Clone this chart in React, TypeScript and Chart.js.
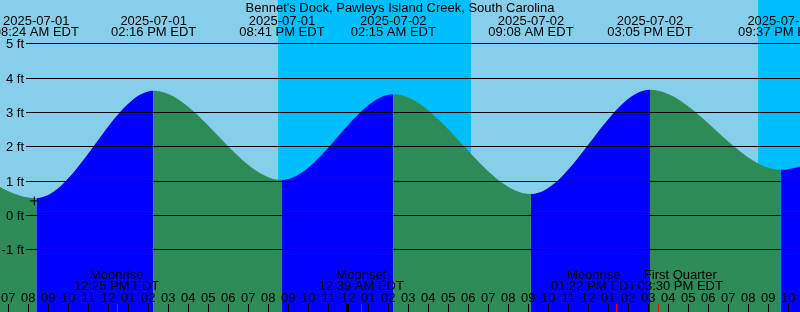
import React, { useEffect, useRef } from "react";
import { Chart, registerables } from "chart.js";

Chart.register(...registerables);

// ---- data (times are hours since 2025-07-01 00:00 EDT, levels in ft) ----
const TITLE = "Bennet's Dock, Pawleys Island Creek, South Carolina";

const tideTimes = [1.7, 8.4, 14.267, 20.683, 26.25, 33.133, 39.083, 45.617, 52.0];
const tideLevels = [3.05, 0.5, 3.63, 1.03, 3.53, 0.62, 3.66, 1.33, 3.5];

const eventTimes = [8.4, 14.267, 20.683, 26.25, 33.133, 39.083, 45.617];
const eventDates = ["2025-07-01", "2025-07-01", "2025-07-01", "2025-07-02", "2025-07-02", "2025-07-02", "2025-07-02"];
const eventClock = ["08:24 AM EDT", "02:16 PM EDT", "08:41 PM EDT", "02:15 AM EDT", "09:08 AM EDT", "03:05 PM EDT", "09:37 PM EDT"];

const moonTimes = [12.417, 24.65, 37.367, 39.5];
const moonNames = ["Moonrise", "Moonset", "Moonrise", "First Quarter"];
const moonClock = ["12:25 PM EDT", "12:39 AM EDT", "01:22 PM EDT", "03:30 PM EDT"];

const nightStarts = [20.485, 44.47];
const nightEnds = [30.135, 54.0];

const yTickValues = [5, 4, 3, 2, 1, 0, -1];
const yTickLabels = ["5 ft", "4 ft", "3 ft", "2 ft", "1 ft", "0 ft", "-1 ft"];

const hourValues = [
  7, 8, 9, 10, 11, 12, 13, 14, 15, 16, 17, 18, 19, 20, 21, 22, 23, 24, 25, 26,
  27, 28, 29, 30, 31, 32, 33, 34, 35, 36, 37, 38, 39, 40, 41, 42, 43, 44, 45, 46,
];
const hourLabels = [
  "07", "08", "09", "10", "11", "12", "01", "02", "03", "04", "05", "06", "07", "08", "09", "10", "11", "12", "01", "02",
  "03", "04", "05", "06", "07", "08", "09", "10", "11", "12", "01", "02", "03", "04", "05", "06", "07", "08", "09", "10",
];
const midnightHours = [24];

const markerTimes = [8.3];
const markerLevels = [0.42];

const X_MIN = 6.585;
const X_MAX = 46.585;
const Y_MIN = -2.82;
const Y_MAX = 6.28;

// ---- styles ----
const DAY = "#87CEEB";
const NIGHT = "#00BFFF";
const RISE = "#0000FF";
const FALL = "#2E8B57";
const FONT = '13px "Liberation Sans", Arial, sans-serif';
// horizontal nudges (px) that keep neighbouring moon labels from overlapping
const MOON_LABEL_NUDGE = [0, 0, -22, 22];

const decorPlugin = {
  id: "tideDecor",
  beforeDatasetsDraw(chart: any) {
    const { ctx, chartArea, scales } = chart;
    const xs = scales.x;
    ctx.save();
    ctx.fillStyle = DAY;
    ctx.fillRect(chartArea.left, chartArea.top, chartArea.right - chartArea.left, chartArea.bottom - chartArea.top);
    ctx.fillStyle = NIGHT;
    for (let i = 0; i < nightStarts.length; i++) {
      const a = Math.round(xs.getPixelForValue(nightStarts[i]));
      const b = Math.round(xs.getPixelForValue(nightEnds[i]));
      ctx.fillRect(a, chartArea.top, b - a, chartArea.bottom - chartArea.top);
    }
    ctx.restore();
  },
  afterDatasetsDraw(chart: any) {
    const { ctx, chartArea, scales } = chart;
    const xs = scales.x;
    const ys = scales.y;
    ctx.save();
    ctx.font = FONT;
    ctx.fillStyle = "#000";
    ctx.textBaseline = "alphabetic";

    // horizontal level lines and labels
    for (let i = 0; i < yTickValues.length; i++) {
      const y = ys.getPixelForValue(yTickValues[i]);
      ctx.fillRect(26, Math.floor(y), chartArea.right - 26, 1);
      ctx.textAlign = "right";
      ctx.fillText(yTickLabels[i], 24, y + 4.6);
    }

    // title
    ctx.textAlign = "center";
    ctx.fillText(TITLE, (chartArea.left + chartArea.right) / 2, 11.5);

    // high / low labels
    for (let i = 0; i < eventTimes.length; i++) {
      const x = xs.getPixelForValue(eventTimes[i]);
      ctx.fillText(eventDates[i], x, 25);
      ctx.fillText(eventClock[i], x, 36);
    }

    // moon labels
    for (let i = 0; i < moonTimes.length; i++) {
      const x = xs.getPixelForValue(moonTimes[i]) + MOON_LABEL_NUDGE[i];
      ctx.fillText(moonNames[i], x, 278.5);
      ctx.fillText(moonClock[i], x, 289.5);
    }

    // hour labels & ticks
    for (let i = 0; i < hourValues.length; i++) {
      const x = xs.getPixelForValue(hourValues[i]);
      ctx.fillText(hourLabels[i], x, 302);
      if (midnightHours.includes(hourValues[i])) {
        ctx.fillRect(Math.round(x) - 2, 304, 3, 8);
      } else {
        ctx.fillRect(Math.round(x), 304, 1, 8);
      }
    }
    ctx.fillStyle = "#FF0000";
    for (let i = 0; i < moonTimes.length; i++) {
      const x = xs.getPixelForValue(moonTimes[i]);
      ctx.fillRect(Math.round(x), 304, 1, 8);
    }
    ctx.restore();
  },
};

export default function App() {
  const ref = useRef<HTMLCanvasElement | null>(null);

  useEffect(() => {
    document.body.style.margin = "0";
    if (!ref.current) return;
    const chart = new Chart(ref.current, {
      type: "line",
      data: {
        datasets: [
          {
            label: "mark",
            data: markerTimes.map((t, i) => ({ x: t, y: markerLevels[i] })),
            showLine: false,
            pointStyle: "cross",
            pointRadius: 4.5,
            pointBorderColor: "#000",
            pointBorderWidth: 1,
            pointBackgroundColor: "#000",
            fill: false,
          },
          {
            label: "tide",
            data: tideTimes.map((t, i) => ({ x: t, y: tideLevels[i] })),
            borderColor: "rgba(0,0,0,0)",
            borderWidth: 0,
            backgroundColor: FALL,
            pointRadius: 0,
            fill: "start",
            cubicInterpolationMode: "monotone",
            segment: {
              backgroundColor: (c: any) => (c.p1.parsed.y > c.p0.parsed.y ? RISE : FALL),
            },
          } as any,
        ],
      },
      options: {
        responsive: false,
        animation: false,
        events: [],
        layout: { padding: 0, autoPadding: false },
        plugins: {
          legend: { display: false },
          tooltip: { enabled: false },
          title: { display: false },
        },
        scales: {
          x: { type: "linear", min: X_MIN, max: X_MAX, display: false },
          y: { type: "linear", min: Y_MIN, max: Y_MAX, display: false },
        },
      } as any,
      plugins: [decorPlugin],
    });
    return () => chart.destroy();
  }, []);

  return (
    <div style={{ width: 800, height: 312 }}>
      <canvas ref={ref} width={800} height={312} style={{ display: "block" }} />
    </div>
  );
}
